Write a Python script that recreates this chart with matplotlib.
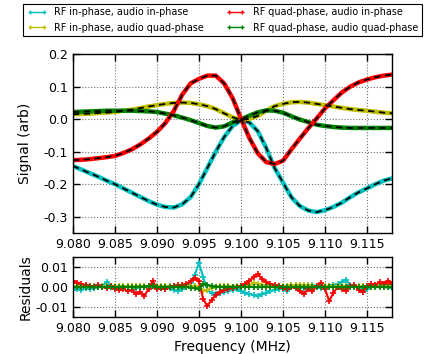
import numpy as np
import matplotlib
matplotlib.use("Agg")
import matplotlib.pyplot as plt
from matplotlib.lines import Line2D
from matplotlib.ticker import FormatStrFormatter, MultipleLocator

# ---- data ----
freq = [9.080, 9.081, 9.082, 9.083, 9.084, 9.085, 9.086, 9.087, 9.088, 9.089,
        9.090, 9.091, 9.092, 9.093, 9.094, 9.095, 9.096, 9.097, 9.098, 9.099,
        9.100, 9.101, 9.102, 9.103, 9.104, 9.105, 9.106, 9.107, 9.108, 9.109,
        9.110, 9.111, 9.112, 9.113, 9.114, 9.115, 9.116, 9.117, 9.118]

rf_in_audio_in = [-0.144, -0.155, -0.166, -0.177, -0.189, -0.200, -0.213, -0.226, -0.239, -0.252,
                  -0.263, -0.270, -0.272, -0.262, -0.240, -0.200, -0.150, -0.100, -0.055, -0.021,
                  -0.004, -0.010, -0.037, -0.088, -0.150, -0.195, -0.240, -0.267, -0.281, -0.286,
                  -0.280, -0.270, -0.257, -0.240, -0.225, -0.213, -0.200, -0.189, -0.182]

rf_in_audio_quad = [0.015, 0.016, 0.017, 0.019, 0.020, 0.022, 0.026, 0.029, 0.034, 0.039,
                    0.043, 0.047, 0.050, 0.051, 0.050, 0.046, 0.040, 0.031, 0.018, 0.006,
                    -0.002, 0.001, 0.010, 0.026, 0.040, 0.047, 0.052, 0.053, 0.051, 0.047,
                    0.043, 0.039, 0.035, 0.031, 0.028, 0.026, 0.023, 0.020, 0.018]

rf_quad_audio_in = [-0.126, -0.125, -0.123, -0.120, -0.117, -0.113, -0.104, -0.093, -0.078, -0.060,
                    -0.039, -0.012, 0.025, 0.075, 0.110, 0.124, 0.134, 0.134, 0.110, 0.065,
                    0.002, -0.058, -0.105, -0.132, -0.138, -0.128, -0.093, -0.060, -0.028, 0.002,
                    0.033, 0.058, 0.082, 0.100, 0.113, 0.122, 0.129, 0.134, 0.137]

rf_quad_audio_quad = [0.022, 0.023, 0.024, 0.025, 0.026, 0.026, 0.026, 0.026, 0.025, 0.024,
                      0.022, 0.017, 0.012, 0.005, -0.003, -0.012, -0.021, -0.026, -0.022, -0.010,
                      -0.001, 0.011, 0.021, 0.027, 0.026, 0.020, 0.009, -0.001, -0.009, -0.017,
                      -0.021, -0.024, -0.026, -0.027, -0.027, -0.027, -0.027, -0.027, -0.027]

# residuals (units of 1e-3), frequency grid 9.0800 .. 9.1180 step 0.0005
res_freq = [9.0800 + 0.0005 * i for i in range(77)]

res_in_in = [-1.5, -1.0, -1.5, -0.5, -1.0, -0.5, 0.0, 0.5, 2.5, 0.5,
             -0.5, 0.0, -0.5, 0.5, 0.0, -0.5, 0.5, 0.0, -0.5, 0.5,
             0.0, -0.5, -1.0, -0.5, -1.5, -2.0, -1.0, 0.5, 2.0, 6.0,
             12.0, 5.0, -1.5, -3.0, -3.5, -3.0, -2.5, -2.0, -1.5, -1.0,
             -2.0, -3.0, -3.5, -4.0, -4.5, -3.5, -3.0, -2.0, -1.5, -1.0,
             -1.0, -2.0, 0.5, 1.0, 0.0, -0.5, 0.5, 1.0, 0.5, -0.5,
             0.0, 0.5, 1.0, 1.5, 2.5, 3.5, 1.0, 0.5, -0.5, -2.5,
             -1.0, 0.5, 1.0, 0.5, 1.5, 2.0, -0.5]

res_in_quad = [0.5, 0.5, 0.3, 0.5, 0.4, 0.5, 0.3, 0.5, 0.4, 0.5,
               0.3, 0.5, 0.4, 0.5, 0.3, 0.5, 0.4, 0.5, 0.3, 0.5,
               0.4, 0.5, 0.3, 0.5, 0.4, 0.5, 0.6, 0.8, 0.5, 0.5,
               0.0, -2.0, -1.5, -0.5, 0.0, 0.3, 0.5, 0.3, 0.2, 0.3,
               0.5, 0.8, 1.2, 1.8, 1.5, 0.8, 0.5, 0.3, 0.5, 0.4,
               0.5, 0.6, 0.8, 1.0, 1.2, 1.0, 0.8, 0.5, 0.4, 0.5,
               0.3, 0.5, 0.4, 0.5, 0.3, 0.5, 0.4, 0.5, 0.3, 0.5,
               0.4, 0.5, 0.3, 0.5, 0.4, 0.5, 0.3]

res_quad_in = [3.0, 2.2, 1.5, 1.0, 0.5, 0.2, 0.8, 0.0, -0.5, 0.3,
               -0.8, -1.5, -1.0, -2.0, -1.5, -3.5, -2.5, -4.5, -1.0, 3.0,
               -1.0, -0.5, -1.0, 0.0, 0.5, 0.8, 1.0, 1.5, 3.0, 4.5,
               3.0, -6.0, -9.5, -6.5, -4.0, -2.5, -1.5, -1.0, -0.5, 0.0,
               0.5, 1.5, 3.0, 5.0, 6.5, 4.0, 2.5, 1.5, 1.0, 0.5,
               -0.5, -1.0, 0.0, -0.5, -2.0, -3.5, -1.0, -2.0, 0.5, 2.0,
               -1.0, -7.0, -3.0, 0.0, -1.0, -2.0, 0.5, 1.0, -1.5, -2.5,
               0.5, 1.5, 1.0, 2.5, 1.5, 3.0, 1.5]

res_quad_quad = [0.0, 0.1, -0.1, 0.0, 0.1, 0.0, -0.1, 0.0, 0.1, 0.0,
                 -0.1, 0.0, 0.1, 0.0, -0.1, 0.0, 0.1, 0.2, 0.5, 0.3,
                 0.0, -0.1, 0.0, 0.1, 0.0, -0.1, 0.0, 0.1, -0.3, -0.5,
                 -1.0, 1.5, 1.0, 0.5, 0.2, 0.0, -0.1, 0.0, 0.1, 0.0,
                 -0.1, 0.0, 0.1, 0.0, -0.1, 0.0, 0.1, 0.0, -0.1, 0.0,
                 0.1, 0.0, -0.1, 0.0, 0.1, 0.0, -0.1, 0.0, 0.1, 0.0,
                 -0.1, 0.0, 0.1, 0.0, -0.1, 0.0, 0.1, 0.0, -0.1, 0.0,
                 0.1, 0.0, -0.1, 0.0, 0.1, 0.0, -0.1]

labels = ["RF in-phase, audio in-phase", "RF in-phase, audio quad-phase",
          "RF quad-phase, audio in-phase", "RF quad-phase, audio quad-phase"]
colors = [(0.0, 0.75, 0.75), (0.75, 0.75, 0.0), (1.0, 0.0, 0.0), (0.0, 0.5, 0.0)]

plt.rcParams['font.family'] = ['DejaVu Sans']
plt.rcParams['xtick.direction'] = 'in'
plt.rcParams['ytick.direction'] = 'in'

fig = plt.figure(figsize=(4.24, 3.54), dpi=100)
ax = fig.add_axes([0.172, 0.342, 0.753, 0.505])
axr = fig.add_axes([0.172, 0.1045, 0.753, 0.1695])

signals = [rf_in_audio_in, rf_in_audio_quad, rf_quad_audio_in, rf_quad_audio_quad]
resids = [res_in_in, res_in_quad, res_quad_in, res_quad_quad]
order = [0, 1, 3, 2]
for k in order:
    ax.plot(freq, signals[k], '-', color=colors[k], lw=3.2, solid_capstyle='round', zorder=2)
for k in order:
    ax.plot(freq, signals[k], '--', color='k', lw=1.3, dashes=(3.5, 2.5), zorder=3)

for k in [0, 1, 2, 3]:
    axr.plot(res_freq, np.array(resids[k]) * 1e-3, '-', color=colors[k], lw=1.5,
             marker='+', ms=4, mew=1.2, zorder=2)

for a in (ax, axr):
    a.set_xlim(9.080, 9.118)
    a.xaxis.set_major_locator(MultipleLocator(0.005))
    a.xaxis.set_major_formatter(FormatStrFormatter('%.3f'))
    a.tick_params(top=True, right=True, labelsize=9, width=1, length=5)
    a.grid(True, color='0.45', linestyle=':', linewidth=0.8)
    a.set_axisbelow(True)
    for s in a.spines.values():
        s.set_linewidth(1.0)

ax.set_ylim(-0.35, 0.2)
ax.yaxis.set_major_locator(MultipleLocator(0.1))
ax.yaxis.set_major_formatter(FormatStrFormatter('%.1f'))
ax.set_ylabel('Signal (arb)', fontsize=10)

axr.set_ylim(-0.015, 0.015)
axr.set_yticks([-0.01, 0.0, 0.01])
axr.yaxis.set_major_formatter(FormatStrFormatter('%.2f'))
axr.set_ylabel('Residuals', fontsize=10)
axr.set_xlabel('Frequency (MHz)', fontsize=10)
ax.yaxis.set_label_coords(-0.127, 0.5)
axr.yaxis.set_label_coords(-0.127, 0.5)

handles = [Line2D([], [], color=colors[k], lw=1.0, marker='+', ms=3.5, mew=1.0) for k in range(4)]
leg = fig.legend(handles, labels, loc='upper center', bbox_to_anchor=(0.525, 0.99),
                 ncol=2, fontsize=6.9, numpoints=2, handlelength=2.0, fancybox=False,
                 edgecolor='k', framealpha=1, borderpad=0.4, labelspacing=0.55,
                 columnspacing=2.3, handletextpad=0.8, borderaxespad=0.0)
leg.get_frame().set_linewidth(0.8)

fig.savefig('out.png', dpi=100)
